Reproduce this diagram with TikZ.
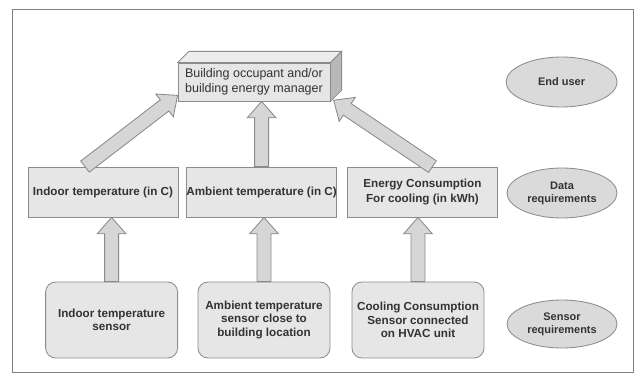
\documentclass[tikz,border=0pt]{standalone}
\usepackage{fontspec}
\setmainfont{Liberation Sans}
\usepackage{xcolor}
\usepackage{tikz}
\usetikzlibrary{calc,shapes.geometric}

\definecolor{boxfill}{HTML}{E6E6E6}
\definecolor{boxline}{HTML}{8C8C8C}
\definecolor{arrfill}{HTML}{D6D6D6}
\definecolor{arrline}{HTML}{8A8A8A}
\definecolor{ellfill}{HTML}{DADADA}
\definecolor{txtgray}{HTML}{333333}

\tikzset{
    databox/.style={draw=boxline, fill=boxfill, line width=0.6pt, minimum width=3.75cm, minimum height=1.25cm, inner sep=0pt, align=center, text=txtgray, font=\bfseries\fontsize{8.3}{10}\selectfont},
    sensorbox/.style={databox, rounded corners=0.25cm, minimum width=3.3cm, minimum height=1.9cm, font=\bfseries\fontsize{8.3}{9.6}\selectfont},
    levelell/.style={ellipse, draw=boxline, fill=ellfill, line width=0.6pt, minimum width=2.75cm, minimum height=1.25cm, inner sep=0pt, align=center, text=txtgray, font=\bfseries\fontsize{7.8}{9.2}\selectfont},
    mgrbox/.style={databox, minimum width=3.8cm, minimum height=0.95cm, font=\fontsize{8.9}{10.7}\selectfont},
    fatarrow/.style={draw=arrline, fill=arrfill, line width=0.6pt, line join=miter}
}

\newcommand{\fatarrow}[2]{%
    \coordinate (fa-h) at ($(#2)!0.41cm!(#1)$);
    \draw[fatarrow] ($(#1)!0.175cm!90:(#2)$) -- ($(fa-h)!0.175cm!90:(#2)$) -- ($(fa-h)!0.36cm!90:(#2)$) -- (#2)
        -- ($(fa-h)!0.36cm!-90:(#2)$) -- ($(fa-h)!0.175cm!-90:(#2)$) -- ($(#1)!0.175cm!-90:(#2)$) -- cycle;
}

\begin{document}
\begin{tikzpicture}
            \useasboundingbox (0, 0) rectangle (16, 9.375);
            \draw[gray, line width=0.6pt] (0.3, 0.075) rectangle (15.825, 9.15);

            \node[mgrbox] (mgr) at (6.35, 7.325) {Building occupant and/or\\building energy manager};
            \draw[draw=boxline, fill=boxfill!70!white, line width=0.6pt] (mgr.north west) -- ++(0.28, 0.28) -- ($(mgr.north east)+(0.28, 0.28)$) -- (mgr.north east) -- cycle;
            \draw[draw=boxline, fill=boxfill!80!black, line width=0.6pt] (mgr.north east) -- ++(0.28, 0.28) -- ($(mgr.south east)+(0.28, 0.28)$) -- (mgr.south east) -- cycle;

            \node[databox] (ind) at (2.575, 4.575) {Indoor temperature (in C)};
            \node[databox] (amb) at (6.54, 4.575) {Ambient temperature (in C)};
            \node[databox] (eng) at (10.56, 4.575) {Energy Consumption\\For cooling (in kWh)};

            \node[sensorbox] (sind) at (2.79, 1.375) {Indoor temperature\\sensor};
            \node[sensorbox] (samb) at (6.6, 1.375) {Ambient temperature\\sensor close to\\building location};
            \node[sensorbox] (seng) at (10.45, 1.375) {Cooling Consumption\\Sensor connected\\on HVAC unit};

            \node[levelell, minimum width=2.775cm] (user) at (14.04, 7.325) {End user};
            \node[levelell] (datareq) at (14.05, 4.55) {Data\\requirements};
            \node[levelell, minimum height=1.2cm] (sensreq) at (14.05, 1.275) {Sensor\\requirements};

            \coordinate (indtail) at ($(ind.north)+(-0.45, 0)$);
            \coordinate (indtip) at ($(mgr.south west)+(0, 0.15)$);
            \coordinate (ambtip) at (amb.north |- mgr.south);
            \coordinate (engtail) at ($(eng.north)+(0.25, 0)$);
            \coordinate (engtip) at ($(mgr.south east)+(0.08, 0.03)$);
            \coordinate (sindtip) at (sind.north |- ind.south);
            \coordinate (sambtip) at (samb.north |- amb.south);
            \coordinate (sengtip) at (seng.north |- eng.south);

            \fatarrow{indtail}{indtip}
            \fatarrow{amb.north}{ambtip}
            \fatarrow{engtail}{engtip}

            \fatarrow{sind.north}{sindtip}
            \fatarrow{samb.north}{sambtip}
            \fatarrow{seng.north}{sengtip}
        \end{tikzpicture}
\end{document}
